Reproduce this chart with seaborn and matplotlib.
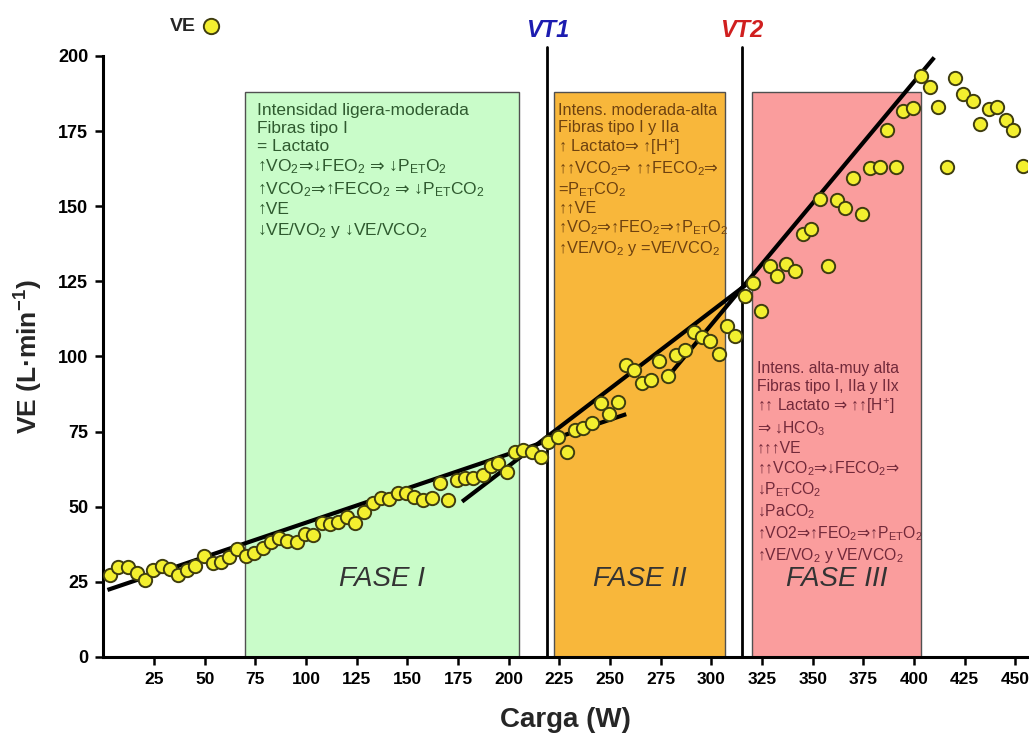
import matplotlib
matplotlib.use("Agg")
import matplotlib.pyplot as plt
import seaborn as sns
import pandas as pd
from matplotlib.patches import Rectangle

# ---------------- data ----------------
carga = [3.3, 7.4, 12.3, 16.4, 20.5, 24.6, 28.8, 32.9, 37.0, 41.1, 45.2, 49.7, 53.9, 57.9,
         62.1, 66.1, 70.4, 74.3, 78.6, 82.6, 86.8, 90.8, 95.4, 99.5, 103.6, 107.7, 111.8,
         115.9, 120.1, 124.2, 128.6, 132.9, 136.9, 141.1, 145.6, 149.4, 153.3, 157.6, 162.0,
         166.1, 170.2, 174.4, 178.5, 182.6, 187.2, 191.2, 194.9, 199.1, 203.2, 207.3, 211.7,
         215.8, 219.6, 224.5, 228.7, 232.8, 236.9, 241.3, 245.5, 249.7, 253.7, 257.8, 261.9,
         266.0, 270.3, 274.4, 278.5, 282.6, 287.1, 291.2, 295.3, 299.4, 303.7, 307.6, 311.7,
         316.7, 320.8, 324.4, 329.0, 332.6, 336.9, 341.4, 345.1, 349.3, 353.7, 357.8, 361.9,
         366.0, 370.1, 374.3, 378.4, 383.0, 386.6, 391.1, 394.8, 399.5, 403.4, 407.7, 412.1,
         416.2, 420.3, 424.4, 428.9, 432.7, 436.8, 441.2, 445.4, 449.1, 453.6]
ve = [27.3, 30.0, 30.0, 27.8, 25.6, 29.0, 30.3, 29.2, 27.3, 29.0, 30.3, 33.6, 31.4, 31.7,
      33.4, 35.8, 33.6, 34.5, 36.2, 38.4, 39.5, 38.7, 38.4, 40.9, 40.6, 44.7, 44.3,
      45.0, 46.7, 44.7, 48.4, 51.4, 52.8, 52.5, 54.5, 54.5, 53.3, 52.2, 52.8,
      57.8, 52.2, 58.9, 59.5, 59.5, 60.6, 63.6, 64.4, 61.7, 68.3, 68.9, 68.3,
      66.5, 71.7, 73.3, 68.1, 75.5, 76.1, 78.0, 84.4, 80.9, 85.0, 97.2, 95.5,
      91.1, 92.2, 98.5, 93.6, 100.5, 102.2, 108.1, 106.4, 105.2, 100.8, 110.1, 106.8,
      120.1, 124.6, 115.2, 130.1, 126.8, 130.8, 128.6, 140.8, 142.4, 152.3, 130.2, 152.1,
      149.3, 159.3, 147.3, 162.6, 163.2, 175.4, 163.2, 181.8, 182.6, 193.4, 189.6, 183.1,
      163.0, 192.6, 187.3, 185.1, 177.4, 182.3, 182.9, 178.7, 175.4, 163.4]

# regression segments (end points)
fit1_x = [2, 258]
fit1_y = [22.3, 80.8]
fit2_x = [177, 318]
fit2_y = [51.7, 124.3]
fit3_x = [277, 410]
fit3_y = [92.0, 199.5]

vt_x = [219, 315]
vt_labels = ["VT1", "VT2"]

phase_start = [70, 222.5, 320]
phase_end = [205, 306.5, 403.5]
phase_top = 188
phase_labels = ["FASE I", "FASE II", "FASE III"]

x_ticks = list(range(25, 451, 25))
y_ticks = list(range(0, 201, 25))

txt_fase1 = ["Intensidad ligera-moderada",
             "Fibras tipo I",
             "= Lactato",
             "↑VO$_2$⇒↓FEO$_2$ ⇒ ↓P$_{ET}$O$_2$",
             "↑VCO$_2$⇒↑FECO$_2$ ⇒ ↓P$_{ET}$CO$_2$",
             "↑VE",
             "↓VE/VO$_2$ y ↓VE/VCO$_2$"]
txt_fase2 = ["Intens. moderada-alta",
             "Fibras tipo I y IIa",
             "↑ Lactato⇒ ↑[H$^{+}$]",
             "↑↑VCO$_2$⇒ ↑↑FECO$_2$⇒",
             "=P$_{ET}$CO$_2$",
             "↑↑VE",
             "↑VO$_2$⇒↑FEO$_2$⇒↑P$_{ET}$O$_2$",
             "↑VE/VO$_2$ y =VE/VCO$_2$"]
txt_fase3 = ["Intens. alta-muy alta",
             "Fibras tipo I, IIa y IIx",
             "↑↑ Lactato ⇒ ↑↑[H$^{+}$]",
             "⇒ ↓HCO$_3$",
             "↑↑↑VE",
             "↑↑VCO$_2$⇒↓FECO$_2$⇒",
             "↓P$_{ET}$CO$_2$",
             "↓PaCO$_2$",
             "↑VO2⇒↑FEO$_2$⇒↑P$_{ET}$O$_2$",
             "↑VE/VO$_2$ y VE/VCO$_2$"]


def fmt(lines):
    # double arrow drawn from the math font (the text font lacks it)
    return "\n".join(l.replace("⇒", r"$\mathrm{⇒}$") for l in lines)


# ---------------- styling ----------------
sns.set_theme(style="ticks")
plt.rcParams["font.family"] = ["Liberation Sans", "DejaVu Sans"]
plt.rcParams["mathtext.fontset"] = "dejavusans"
plt.rcParams["mathtext.default"] = "regular"

phase_colors = ["#c9fcc9", "#f8b73b", "#fa9d9d"]
text_colors = ["#2f5a2f", "#6e4210", "#72293a"]
vt_colors = ["#1c1cb0", "#d01f1f"]

fig = plt.figure(figsize=(10.29, 7.51), dpi=100)
ax = fig.add_axes([0.1005, 0.1252, 0.898, 0.8003])

df = pd.DataFrame({"Carga": carga, "VE": ve})

# phase boxes
for x0, x1, c in zip(phase_start, phase_end, phase_colors):
    ax.add_patch(Rectangle((x0, 0), x1 - x0, phase_top, facecolor=c,
                           edgecolor="#505050", linewidth=1.0, zorder=1))

# threshold lines
for xv, lab, col in zip(vt_x, vt_labels, vt_colors):
    ax.plot([xv, xv], [0, 203], color="black", lw=2.0, zorder=2, clip_on=False)
    ax.text(xv, 208.5, lab, color=col, fontsize=17, fontweight="bold",
            fontstyle="italic", ha="center", va="center")

# fit lines
for fx, fy in [(fit1_x, fit1_y), (fit2_x, fit2_y), (fit3_x, fit3_y)]:
    ax.plot(fx, fy, color="black", lw=3.0, zorder=3, solid_capstyle="butt")

sns.scatterplot(data=df, x="Carga", y="VE", ax=ax, s=92, color="#f3ef2f",
                edgecolor="#3f3d10", linewidth=1.4, zorder=5, label="VE")

# phase labels
for x0, x1, lab in zip(phase_start, phase_end, phase_labels):
    ax.text((x0 + x1) / 2, 26, lab, fontsize=20, fontstyle="italic",
            color="#333333", ha="center", va="center", zorder=4)

# phase descriptions
ax.text(76, 184.5, fmt(txt_fase1), fontsize=12.5, color=text_colors[0],
        ha="left", va="top", linespacing=1.27, zorder=4)
ax.text(224.5, 184.5, fmt(txt_fase2), fontsize=11.8, color=text_colors[1],
        ha="left", va="top", linespacing=1.17, zorder=4)
ax.text(322.5, 98.5, fmt(txt_fase3), fontsize=11.3, color=text_colors[2],
        ha="left", va="top", linespacing=1.22, zorder=4)

ax.set_xlim(0, 456)
ax.set_ylim(0, 200)
ax.set_xticks(x_ticks)
ax.set_yticks(y_ticks)
ax.set_xticklabels([str(t) for t in x_ticks], fontsize=12.5, fontweight="bold")
ax.set_yticklabels([str(t) for t in y_ticks], fontsize=13, fontweight="bold")
ax.tick_params(axis="both", direction="out", length=6, width=1.8, colors="black", pad=5)

for side in ["top", "right"]:
    ax.spines[side].set_visible(False)
for side in ["left", "bottom"]:
    ax.spines[side].set_linewidth(2.2)
    ax.spines[side].set_color("black")

ax.set_xlabel("Carga (W)", fontsize=20, fontweight="bold", labelpad=14)
ax.set_ylabel("VE (L·min$^{-1}$)", fontsize=19, fontweight="bold", labelpad=9)

leg = ax.legend(loc="center", bbox_to_anchor=(0.099, 1.05), markerfirst=False,
                frameon=False, handletextpad=0.3, handlelength=0.9, borderaxespad=0,
                prop={"weight": "bold", "size": 14}, markerscale=1.15)

fig.savefig("out.png", dpi=100)
